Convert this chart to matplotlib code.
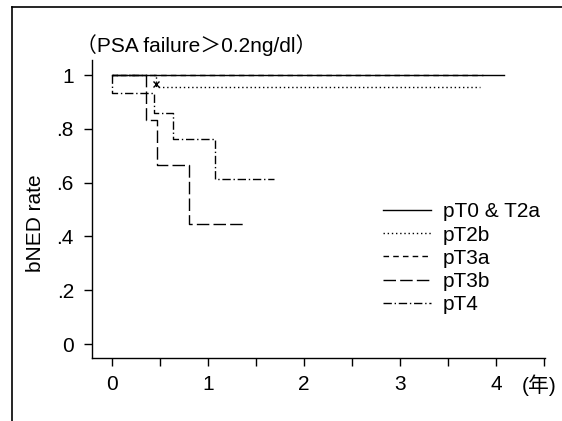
import matplotlib
matplotlib.use("Agg")
import matplotlib.pyplot as plt
from matplotlib.lines import Line2D

plt.rcParams['font.family'] = ['Liberation Sans', 'Noto Sans CJK JP', 'DejaVu Sans']

# Kaplan-Meier style step curves (years, bNED rate)
t_t0 = [0, 4.08]
s_t0 = [1.0, 1.0]

t_t2b = [0, 0.46, 3.83]
s_t2b = [1.0, 0.955, 0.955]
cens_t2b_x = [0.46]
cens_t2b_y = [0.965]

t_t3a = [0, 3.86]
s_t3a = [1.0, 1.0]

t_t3b = [0, 0.35, 0.47, 0.80, 1.39]
s_t3b = [1.0, 0.833, 0.667, 0.446, 0.446]

t_t4 = [0, 0, 0.44, 0.63, 1.07, 1.69]
s_t4 = [1.0, 0.933, 0.857, 0.762, 0.613, 0.613]

labels = ["pT0 & T2a", "pT2b", "pT3a", "pT3b", "pT4"]

fig = plt.figure(figsize=(5.62, 4.21), dpi=100)
ax = fig.add_axes([0.1637, 0.1496, 0.8061, 0.708])

lw = 1.0
ax.step(t_t0, s_t0, where="post", color="black", lw=lw, label=labels[0])
ax.step(t_t2b, s_t2b, where="post", color="black", lw=lw, ls=(0, (1, 2)), label=labels[1])
ax.step(t_t3a, s_t3a, where="post", color="black", lw=lw, ls=(0, (4, 3)), label=labels[2])
ax.step(t_t3b, s_t3b, where="post", color="black", lw=lw, ls=(0, (9, 3)), label=labels[3])
ax.step(t_t4, s_t4, where="post", color="black", lw=lw, ls=(0, (6, 2, 1, 2)), label=labels[4])
ax.plot(cens_t2b_x, cens_t2b_y, "x", color="black", ms=5, mew=1)

ax.set_xlim(-0.21, 4.51)
ax.set_ylim(-0.052, 1.056)

ax.set_xticks([0, 1, 2, 3, 4])
ax.set_xticks([0.5, 1.5, 2.5, 3.5, 4.5], minor=True)
ax.set_yticks([0, 0.2, 0.4, 0.6, 0.8, 1.0])
ax.set_yticklabels(["0", ".2", ".4", ".6", ".8", "1"])
ax.tick_params(axis="both", which="both", length=6, width=1, labelsize=15, direction="out")
ax.tick_params(axis="x", pad=6)
ax.tick_params(axis="y", pad=7)

for side in ["top", "right"]:
    ax.spines[side].set_visible(False)
for side in ["left", "bottom"]:
    ax.spines[side].set_linewidth(1.0)

ax.set_ylabel("bNED rate", fontsize=15)
ax.yaxis.set_label_coords(-0.104, 0.453)

ax.legend(loc="upper left", bbox_to_anchor=(0.625, 0.55), frameon=False,
          fontsize=15, handlelength=2.26, handletextpad=0.6, labelspacing=0.2,
          borderaxespad=0)

fig.text(0.135, 0.893, "（PSA failure＞0.2ng/dl）", fontsize=15, ha="left", va="center")
fig.text(0.928, 0.085, "(年)", fontsize=15, ha="left", va="center")

# scan frame (top and left edges)
fig.add_artist(Line2D([0.021, 0.021], [0.0, 0.983], color="black", lw=1.2, transform=fig.transFigure))
fig.add_artist(Line2D([0.021, 1.0], [0.983, 0.983], color="black", lw=1.2, transform=fig.transFigure))

fig.savefig("out.png", dpi=100)
